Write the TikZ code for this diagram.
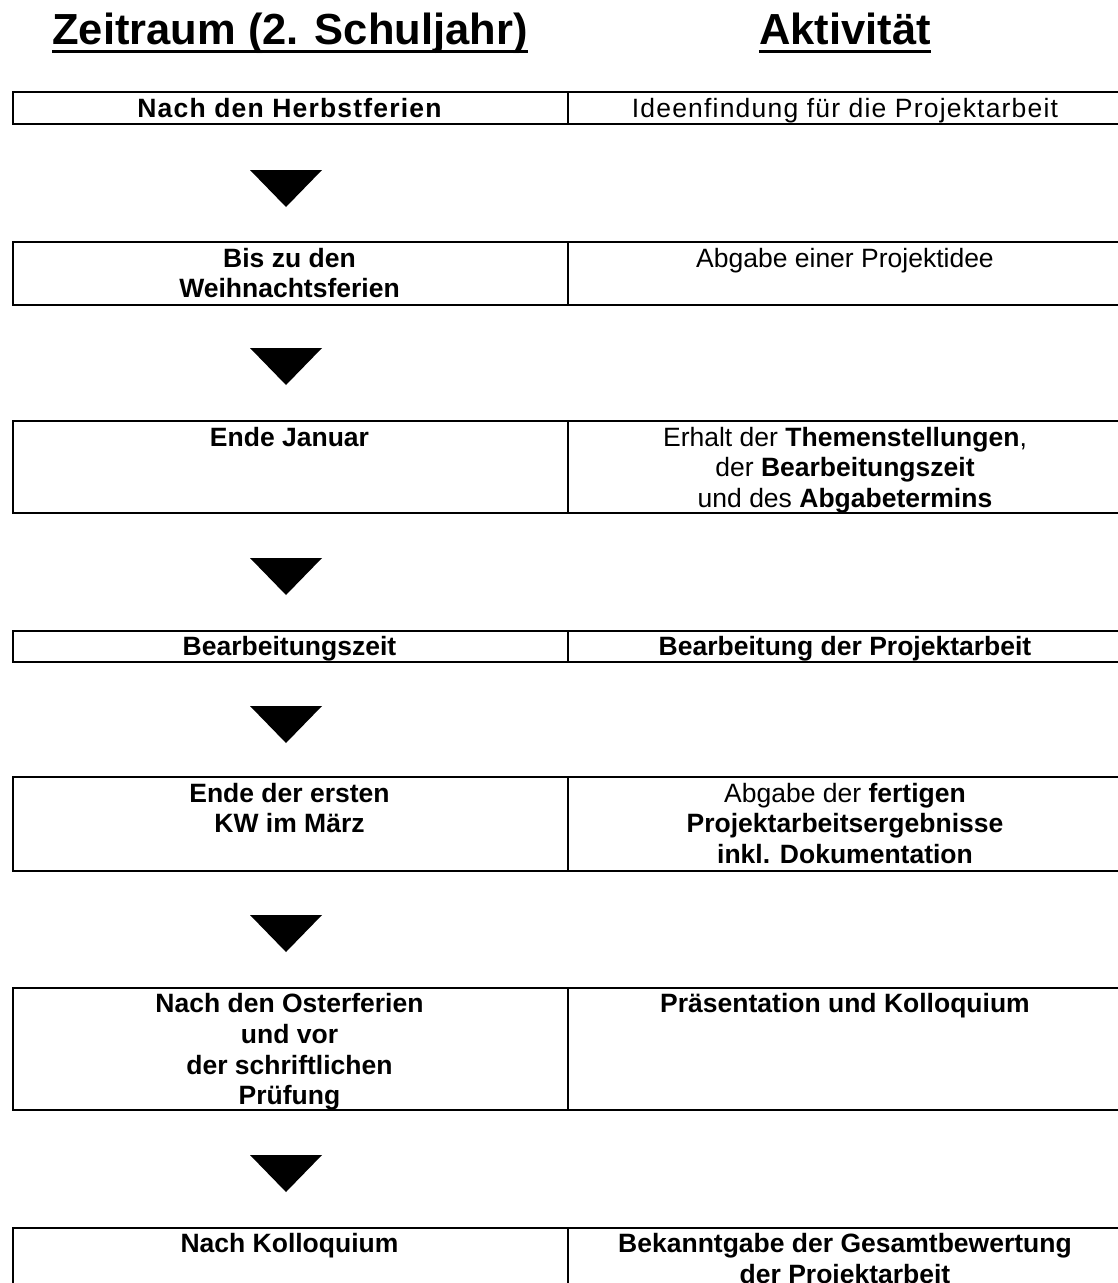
\documentclass[tikz,border=0pt]{standalone}
\usepackage{fontspec}
\setmainfont{Liberation Sans}
\begin{document}
\begin{tikzpicture}[x=1pt,y=-1pt,
  cell/.style={draw=black, line width=1.8pt, rectangle, inner sep=0pt, anchor=north west},
  head/.style={anchor=base, inner sep=0pt, font=\fontsize{43.5}{50}\selectfont\bfseries},
  ltxt/.style={anchor=north, inner sep=0pt, align=center, font=\fontsize{26.5}{30.7}\selectfont\bfseries},
  rtxt/.style={anchor=north, inner sep=0pt, align=center, font=\fontsize{26.5}{30.7}\selectfont},
  wide/.style={font=\fontsize{26.5}{30.7}\selectfont\addfontfeature{LetterSpace=4.5}},
  tri/.style={fill=black}]
\useasboundingbox (0,0) rectangle (1118,1283);
\clip (0,0) rectangle (1118,1283);

% headers
\node[head] (h1) at (290,44) {Zeitraum (2. Schuljahr)};
\node[head] (h2) at (845,44) {Aktivität};
\draw[line width=3pt] ([yshift=-7pt]h1.base west) -- ([yshift=-7pt]h1.base east);
\draw[line width=3pt] ([yshift=-7pt]h2.base west) -- ([yshift=-7pt]h2.base east);

% row 1
\node[cell, minimum width=555pt, minimum height=32pt] (l1) at (12,91) {};
\node[cell, minimum width=557pt, minimum height=32pt] (r1) at (567,91) {};
\node[ltxt, wide] (tl1) at (289.5,95.5) {\strut\bfseries Nach den Herbstferien};
\node[rtxt, wide] (tr1) at (845,95.5) {\strut Ideenfindung für die Projektarbeit};
\fill[tri] (250,170) -- (322,170) -- (286,207) -- cycle;

% row 2
\node[cell, minimum width=555pt, minimum height=63pt] (l2) at (12,241) {};
\node[cell, minimum width=557pt, minimum height=63pt] (r2) at (567,241) {};
\node[ltxt] (tl2) at (289.5,245.5) {\strut Bis zu den\\Weihnachtsferien};
\node[rtxt] (tr2) at (845,245.5) {\strut Abgabe einer Projektidee};
\fill[tri] (250,348) -- (322,348) -- (286,385) -- cycle;

% row 3
\node[cell, minimum width=555pt, minimum height=92pt] (l3) at (12,420) {};
\node[cell, minimum width=557pt, minimum height=92pt] (r3) at (567,420) {};
\node[ltxt] (tl3) at (289.5,424.5) {\strut Ende Januar};
\node[rtxt] (tr3) at (845,424.5) {\strut Erhalt der \textbf{Themenstellungen},\\der \textbf{Bearbeitungszeit}\\und des \textbf{Abgabetermins}};
\fill[tri] (250,558) -- (322,558) -- (286,595) -- cycle;

% row 4
\node[cell, minimum width=555pt, minimum height=31pt] (l4) at (12,630) {};
\node[cell, minimum width=557pt, minimum height=31pt] (r4) at (567,630) {};
\node[ltxt] (tl4) at (289.5,634) {\strut Bearbeitungszeit};
\node[ltxt] (tr4) at (845,634) {\strut Bearbeitung der Projektarbeit};
\fill[tri] (250,706) -- (322,706) -- (286,743) -- cycle;

% row 5
\node[cell, minimum width=555pt, minimum height=94pt] (l5) at (12,776) {};
\node[cell, minimum width=557pt, minimum height=94pt] (r5) at (567,776) {};
\node[ltxt] (tl5) at (289.5,780.5) {\strut Ende der ersten\\KW im März};
\node[rtxt] (tr5) at (845,780.5) {\strut Abgabe der \textbf{fertigen}\\\textbf{Projektarbeitsergebnisse}\\\textbf{inkl. Dokumentation}};
\fill[tri] (250,915) -- (322,915) -- (286,952) -- cycle;

% row 6
\node[cell, minimum width=555pt, minimum height=122pt] (l6) at (12,987) {};
\node[cell, minimum width=557pt, minimum height=122pt] (r6) at (567,987) {};
\node[ltxt] (tl6) at (289.5,991) {\strut Nach den Osterferien\\und vor\\der schriftlichen\\Prüfung};
\node[ltxt] (tr6) at (845,991) {\strut Präsentation und Kolloquium};
\fill[tri] (250,1155) -- (322,1155) -- (286,1192) -- cycle;

% row 7
\node[cell, minimum width=555pt, minimum height=90pt] (l7) at (12,1227) {};
\node[cell, minimum width=557pt, minimum height=90pt] (r7) at (567,1227) {};
\node[ltxt] (tl7) at (289.5,1231) {\strut Nach Kolloquium};
\node[ltxt] (tr7) at (845,1231) {\strut Bekanntgabe der Gesamtbewertung\\der Projektarbeit};
\end{tikzpicture}
\end{document}
